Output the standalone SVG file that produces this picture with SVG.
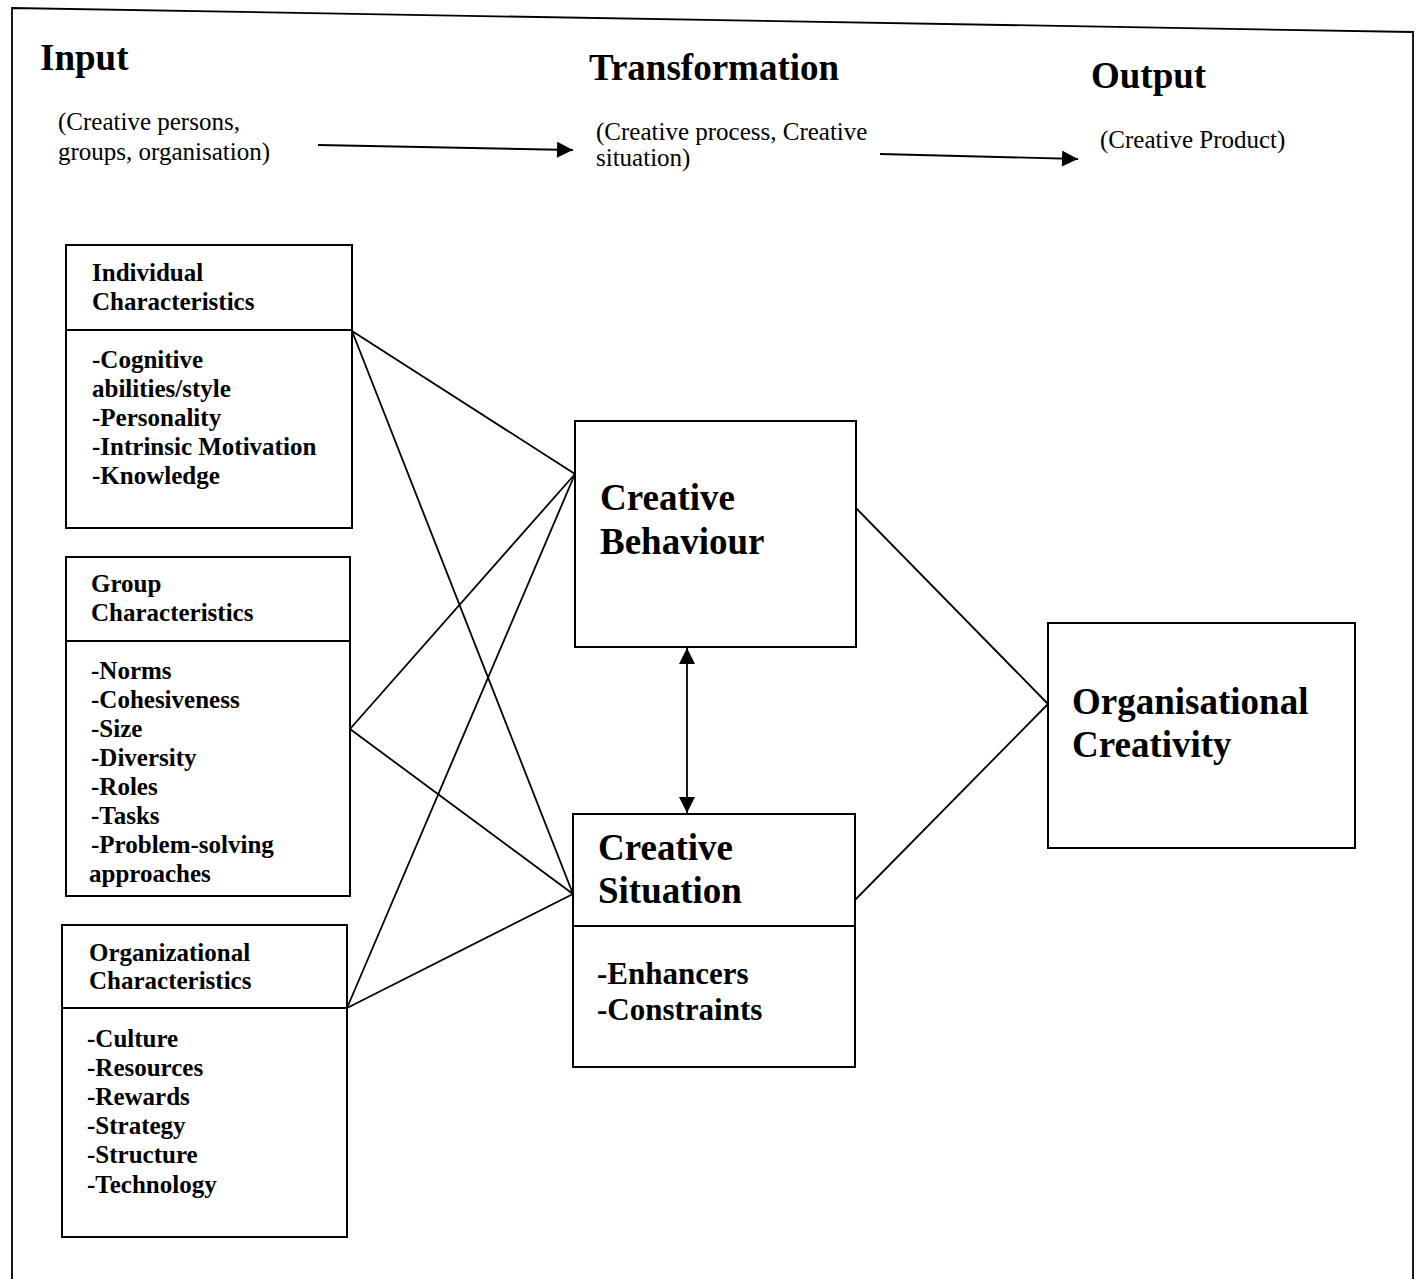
<svg xmlns="http://www.w3.org/2000/svg" width="1422" height="1279" viewBox="0 0 1422 1279">
<style>
  .box { fill: #fff; stroke: #000; stroke-width: 2; }
  .ln { stroke: #000; stroke-width: 1.8; fill: none; }
  .head { font-family: "Liberation Serif", "Times New Roman", serif; font-weight: bold; font-size: 37px; fill: #000; }
  .sub { font-family: "Liberation Serif", "Times New Roman", serif; font-size: 25px; fill: #000; }
  .bt { font-family: "Liberation Serif", "Times New Roman", serif; font-weight: bold; font-size: 25px; fill: #000; }
  .big { font-family: "Liberation Serif", "Times New Roman", serif; font-weight: bold; font-size: 37px; fill: #000; }
  .mid { font-family: "Liberation Serif", "Times New Roman", serif; font-weight: bold; font-size: 31px; fill: #000; }
</style>
<defs>
  <marker id="ah2" viewBox="0 0 10 10" refX="10" refY="5" markerWidth="18" markerHeight="16" markerUnits="userSpaceOnUse" orient="auto-start-reverse">
    <path d="M0,0 L10,5 L0,10 z" fill="#000"/>
  </marker>
</defs>
<rect width="1422" height="1279" fill="#fff"/>
<polyline class="ln" points="12,1279 12,8 1413,32 1413,1279" stroke-width="2"/>

<g id="header">
  <text class="head" x="40" y="70">Input</text>
  <text class="sub" x="58" y="130">(Creative persons,</text>
  <text class="sub" x="58" y="160">groups, organisation)</text>
  <text class="head" x="589" y="80">Transformation</text>
  <text class="sub" x="596" y="140">(Creative process, Creative</text>
  <text class="sub" x="596" y="166">situation)</text>
  <text class="head" x="1091" y="88">Output</text>
  <text class="sub" x="1100" y="148">(Creative Product)</text>
</g>

<g id="connectors">
  <line class="ln" x1="318" y1="145" x2="573" y2="150" marker-end="url(#ah2)"/>
  <line class="ln" x1="880" y1="154" x2="1078" y2="159" marker-end="url(#ah2)"/>
  <line class="ln" x1="352" y1="331" x2="575" y2="474"/>
  <line class="ln" x1="352" y1="331" x2="573" y2="894"/>
  <line class="ln" x1="350" y1="729" x2="575" y2="474"/>
  <line class="ln" x1="350" y1="729" x2="573" y2="894"/>
  <line class="ln" x1="347" y1="1008" x2="575" y2="474"/>
  <line class="ln" x1="347" y1="1008" x2="573" y2="894"/>
  <line class="ln" x1="856" y1="508" x2="1048" y2="704"/>
  <line class="ln" x1="855" y1="900" x2="1048" y2="704"/>
  <line class="ln" x1="687" y1="648" x2="687" y2="813" marker-start="url(#ah2)" marker-end="url(#ah2)"/>
</g>

<g id="individual">
  <rect class="box" x="66" y="245" width="286" height="283"/>
  <line class="ln" x1="66" y1="330" x2="352" y2="330" stroke-width="2"/>
  <text class="bt" x="92" y="281">Individual</text>
  <text class="bt" x="92" y="310">Characteristics</text>
  <text class="bt" x="92" y="368">-Cognitive</text>
  <text class="bt" x="92" y="397">abilities/style</text>
  <text class="bt" x="92" y="426">-Personality</text>
  <text class="bt" x="92" y="455">-Intrinsic Motivation</text>
  <text class="bt" x="92" y="484">-Knowledge</text>
</g>

<g id="group">
  <rect class="box" x="66" y="557" width="284" height="339"/>
  <line class="ln" x1="66" y1="641" x2="350" y2="641" stroke-width="2"/>
  <text class="bt" x="91" y="592">Group</text>
  <text class="bt" x="91" y="621">Characteristics</text>
  <text class="bt" x="91" y="679">-Norms</text>
  <text class="bt" x="91" y="708">-Cohesiveness</text>
  <text class="bt" x="91" y="737">-Size</text>
  <text class="bt" x="91" y="766">-Diversity</text>
  <text class="bt" x="91" y="795">-Roles</text>
  <text class="bt" x="91" y="824">-Tasks</text>
  <text class="bt" x="91" y="853">-Problem-solving</text>
  <text class="bt" x="89" y="882">approaches</text>
</g>

<g id="organizational">
  <rect class="box" x="62" y="925" width="285" height="312"/>
  <line class="ln" x1="62" y1="1008" x2="347" y2="1008" stroke-width="2"/>
  <text class="bt" x="89" y="961">Organizational</text>
  <text class="bt" x="89" y="989">Characteristics</text>
  <text class="bt" x="87" y="1047">-Culture</text>
  <text class="bt" x="87" y="1076">-Resources</text>
  <text class="bt" x="87" y="1105">-Rewards</text>
  <text class="bt" x="87" y="1134">-Strategy</text>
  <text class="bt" x="87" y="1163">-Structure</text>
  <text class="bt" x="87" y="1193">-Technology</text>
</g>

<g id="behaviour">
  <rect class="box" x="575" y="421" width="281" height="226"/>
  <text class="big" x="600" y="510">Creative</text>
  <text class="big" x="600" y="554">Behaviour</text>
</g>

<g id="situation">
  <rect class="box" x="573" y="814" width="282" height="253"/>
  <line class="ln" x1="573" y1="926" x2="855" y2="926" stroke-width="2"/>
  <text class="big" x="598" y="860">Creative</text>
  <text class="big" x="598" y="903">Situation</text>
  <text class="mid" x="597" y="984">-Enhancers</text>
  <text class="mid" x="597" y="1020">-Constraints</text>
</g>

<g id="orgcreativity">
  <rect class="box" x="1048" y="623" width="307" height="225"/>
  <text class="big" x="1072" y="714">Organisational</text>
  <text class="big" x="1072" y="757">Creativity</text>
</g>
</svg>
